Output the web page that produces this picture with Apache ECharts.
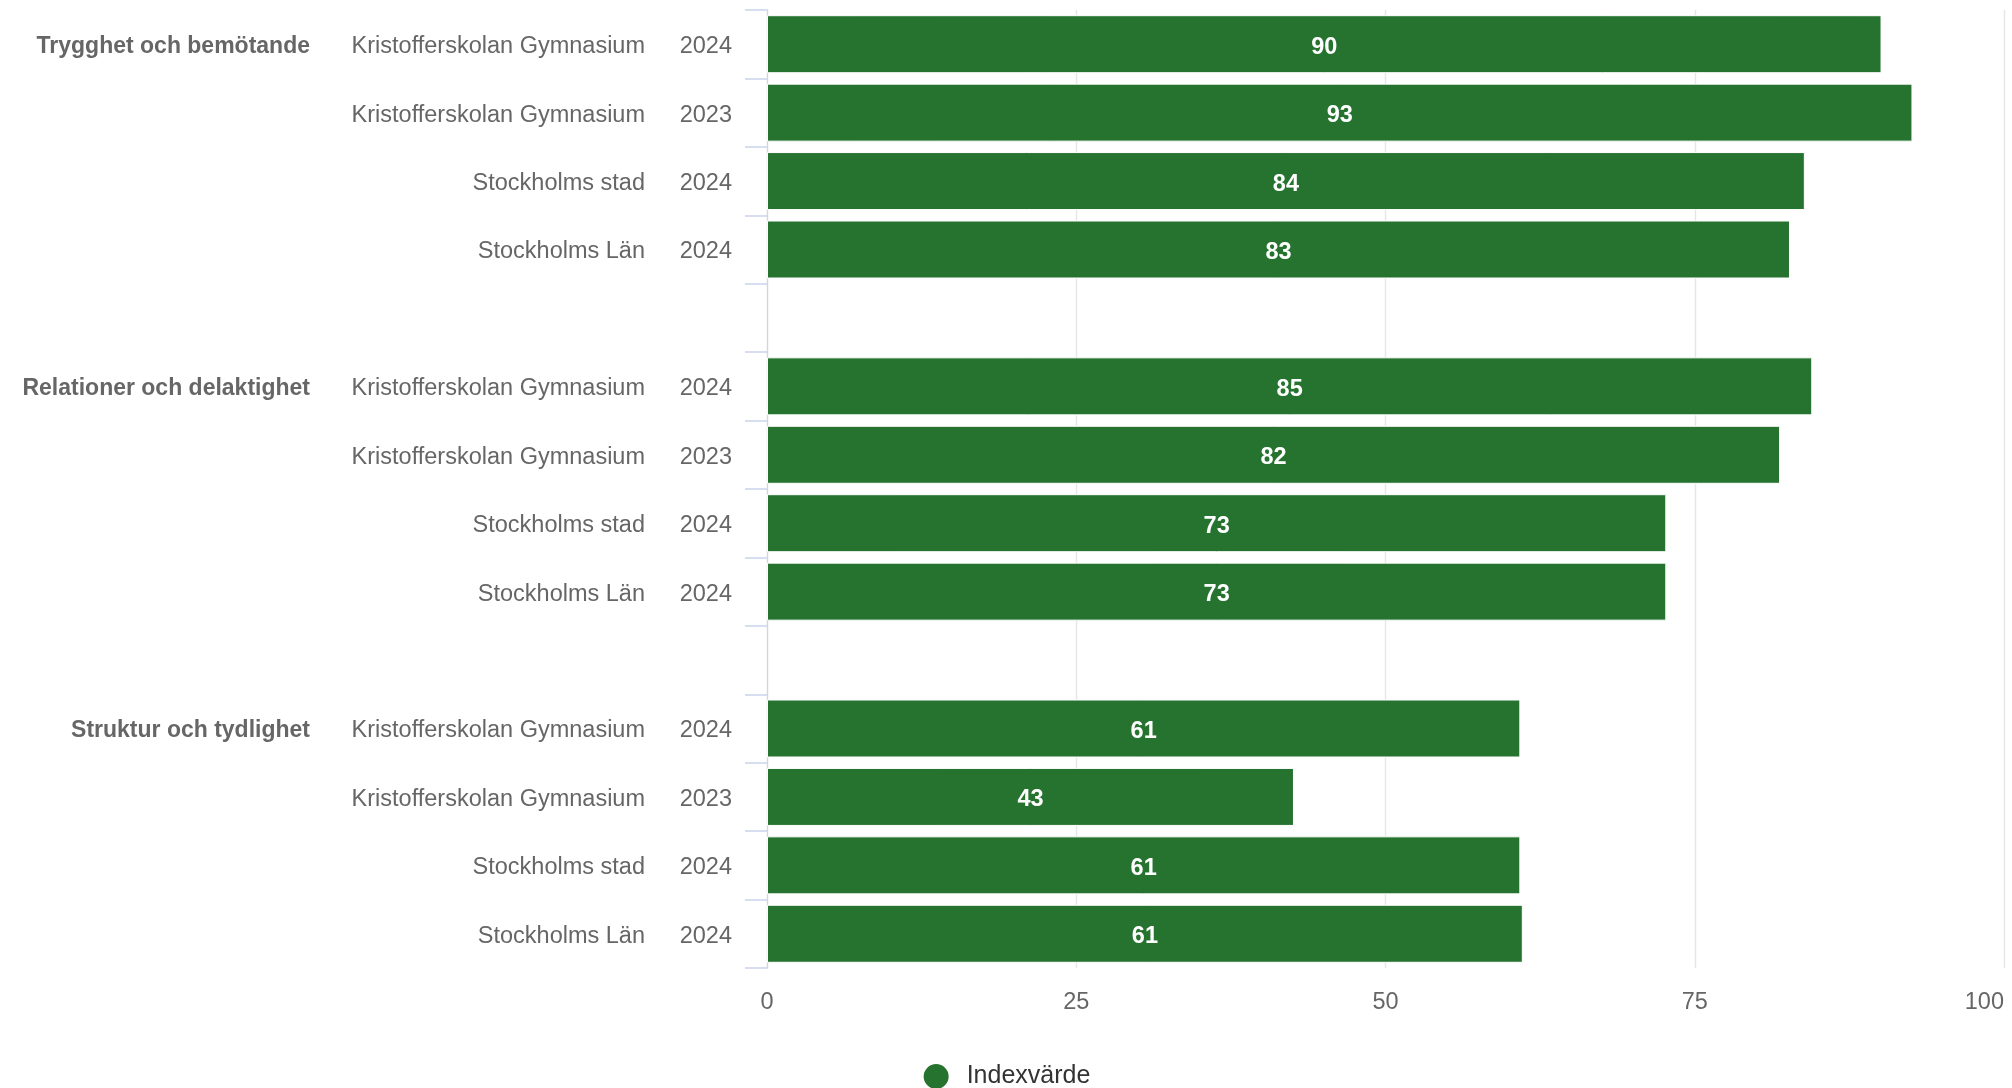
<!DOCTYPE html>
<html>
<head>
<meta charset="utf-8">
<script src="https://cdn.jsdelivr.net/npm/echarts@6/dist/echarts.min.js"></script>
<style>
html,body{margin:0;padding:0;background:#fff;}
#chart{width:2012px;height:1088px;}
</style>
</head>
<body>
<div id="chart"></div>
<script>
// ---- data ----
const groups = ['Trygghet och bemötande', 'Relationer och delaktighet', 'Struktur och tydlighet'];
const units = ['Kristofferskolan Gymnasium', 'Kristofferskolan Gymnasium', 'Stockholms stad', 'Stockholms Län'];
const years = ['2024', '2023', '2024', '2024'];
const valuesTrygghet = [90.1, 92.6, 83.9, 82.7];
const valuesRelationer = [84.5, 81.9, 72.7, 72.7];
const valuesStruktur = [60.9, 42.6, 60.9, 61.1];
const xTicks = [0, 25, 50, 75, 100];
const seriesName = 'Indexvärde';

const groupValues = [valuesTrygghet, valuesRelationer, valuesStruktur];

// build category rows (with an empty spacer row between groups)
const rows = [];
const barData = [];
groups.forEach((g, gi) => {
  units.forEach((u, i) => {
    rows.push({ group: i === 0 ? g : '', unit: u, year: years[i] });
    barData.push(groupValues[gi][i]);
  });
  if (gi < groups.length - 1) {
    rows.push({ group: '', unit: '', year: '' });
    barData.push('-');
  }
});
const categories = rows.map((r, i) => 'c' + i);

const FONT = '"Liberation Sans", Arial, Helvetica, sans-serif';

const chart = echarts.init(document.getElementById('chart'), null, { renderer: 'canvas' });
chart.setOption({
  animation: false,
  backgroundColor: '#ffffff',
  textStyle: { fontFamily: FONT },
  grid: { left: 767, right: 8, top: 10, height: 958, containLabel: false },
  legend: {
    data: [seriesName],
    top: 1057,
    left: 'center',
    icon: 'circle',
    itemWidth: 27,
    itemHeight: 27,
    textStyle: { color: '#333333', fontSize: 25, fontFamily: FONT, padding: [0, 0, 0, 12] }
  },
  xAxis: {
    type: 'value',
    min: xTicks[0],
    max: xTicks[xTicks.length - 1],
    interval: 25,
    axisLine: { show: false },
    axisTick: { show: false },
    axisLabel: {
      color: '#666666', fontSize: 23.5, fontFamily: FONT, margin: 23,
      alignMaxLabel: 'right'
    },
    splitLine: { show: true, showMinLine: false, lineStyle: { color: '#e6e6e6', width: 1.4 } }
  },
  yAxis: {
    type: 'category',
    inverse: true,
    data: categories,
    axisLine: { show: true, lineStyle: { color: '#ccd6eb', width: 1.4 } },
    axisTick: { show: true, length: 22, lineStyle: { color: '#ccd6eb', width: 1.6 } },
    axisLabel: {
      margin: 35,
      interval: 0,
      formatter: function (v, idx) {
        const r = rows[idx];
        return '{g|' + (r.group || ' ') + '}{s|' + (r.unit || ' ') + '}{y|' + (r.year || ' ') + '}';
      },
      rich: {
        g: { width: 300, align: 'right', fontWeight: 'bold', fontSize: 23, color: '#666666', fontFamily: FONT, padding: [5, 0, 0, 0] },
        s: { width: 335, align: 'right', fontSize: 23.5, color: '#666666', fontFamily: FONT, padding: [5, 0, 0, 0] },
        y: { width: 87, align: 'right', fontSize: 23.5, color: '#666666', fontFamily: FONT, padding: [5, 0, 0, 0] }
      }
    },
    splitLine: { show: false }
  },
  series: [{
    name: seriesName,
    type: 'bar',
    data: barData,
    barWidth: 58,
    itemStyle: { color: '#267330', borderColor: '#ffffff', borderWidth: 1 },
    label: {
      show: true,
      position: 'inside',
      offset: [0, 3],
      color: '#ffffff',
      fontWeight: 'bold',
      fontSize: 23.5,
      fontFamily: FONT,
      formatter: p => Math.round(p.value)
    }
  }]
});
</script>
</body>
</html>
